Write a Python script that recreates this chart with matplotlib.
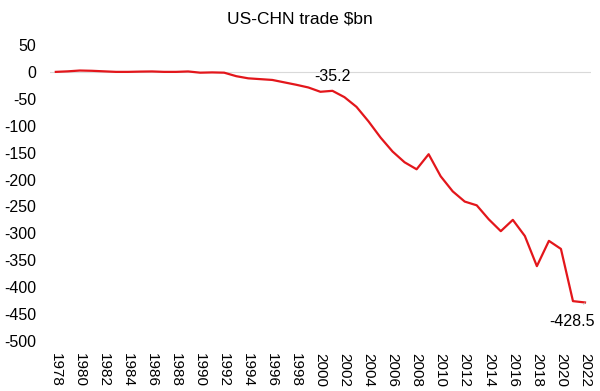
import matplotlib

matplotlib.use("Agg")
import matplotlib.pyplot as plt  # noqa: E402

# US-China trade balance, $bn
years = list(range(1978, 2023))
balance = [
    0, 1, 2.5, 2, 1, 0, 0, 0.5, 0.8, 0, 0, 0.8, -1.5, -1, -1.5,
    -8, -12, -13.5, -15, -19.5, -24, -29, -37, -35.2, -47, -65, -92,
    -122, -148, -168, -181, -153, -194, -222, -241, -248, -274, -296,
    -275, -305, -361, -314, -329, -426, -428.5,
]
y_ticks = list(range(50, -501, -50))
x_ticks = list(range(1978, 2023, 2))
labelled = {2001: "-35.2", 2022: "-428.5"}

plt.rcParams["font.family"] = ["Liberation Sans", "DejaVu Sans"]

fig = plt.figure(figsize=(6.0, 3.91), dpi=100)
ax = fig.add_axes([0.083, 0.128, 0.902, 0.757])

ax.axhline(0, color="#d9d9d9", lw=0.8, zorder=1)
ax.plot(years, balance, color="#e3161b", lw=1.6, zorder=3)

ax.set_xlim(1977.5, 2022.5)
ax.set_ylim(-500, 50)
ax.set_yticks(y_ticks)
ax.set_yticklabels([str(v) for v in y_ticks])
ax.set_xticks(x_ticks)
ax.set_xticklabels([str(v) for v in x_ticks], rotation=270)
ax.tick_params(axis="y", length=0, pad=10, labelsize=11.5)
ax.tick_params(axis="x", length=0, pad=9, labelsize=11)
for s in ax.spines.values():
    s.set_visible(False)

# data labels
y01 = balance[years.index(2001)]
ax.annotate(labelled[2001], (2001, y01), xytext=(0, 10), textcoords="offset points",
            ha="center", va="center", fontsize=11.5)
y22 = balance[years.index(2022)]
ax.annotate(labelled[2022], (2022, y22), xytext=(-9, -14), textcoords="offset points",
            ha="center", va="center", fontsize=11.5,
            arrowprops=dict(arrowstyle="-", color="#bfbfbf", lw=0.5, shrinkA=6, shrinkB=0))

fig.text(0.5, 0.952, "US-CHN trade $bn", ha="center", va="center", fontsize=12.5)

fig.savefig("out.png", dpi=100)
